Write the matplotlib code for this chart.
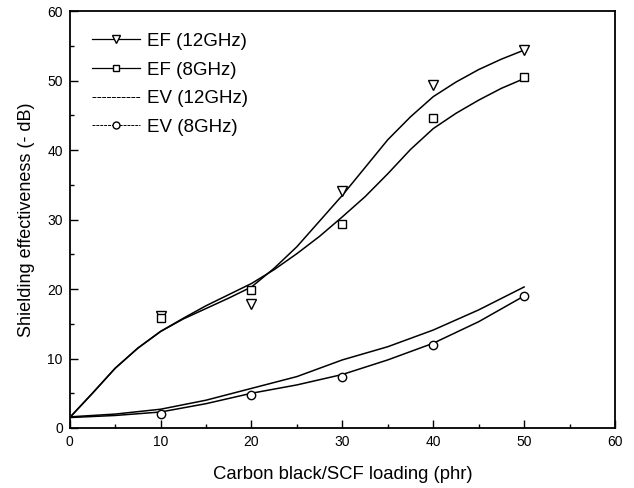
import matplotlib
matplotlib.use('Agg')
import matplotlib.pyplot as plt
from matplotlib.lines import Line2D
from matplotlib.ticker import MultipleLocator

plt.rcParams['font.family'] = ['Liberation Sans', 'DejaVu Sans']

# measured points
loading = [10, 20, 30, 40, 50]
ef_12 = [16.1, 17.9, 34.1, 49.4, 54.4]
ef_8 = [15.8, 19.9, 29.3, 44.6, 50.5]
ev_8 = [2.0, 4.75, 7.4, 11.9, 19.0]

# fitted curves
fit_x = [0, 2.5, 5, 7.5, 10, 12.5, 15, 17.5, 20, 22.5, 25, 27.5, 30,
         32.5, 35, 37.5, 40, 42.5, 45, 47.5, 50]
fit_ef_12 = [1.5, 5.0, 8.6, 11.5, 13.9, 15.7, 17.2, 18.7, 20.3, 23.0, 26.1,
             29.8, 33.5, 37.5, 41.5, 44.8, 47.7, 49.8, 51.6, 53.1, 54.4]
fit_ef_8 = [1.5, 5.0, 8.6, 11.5, 13.9, 15.8, 17.6, 19.2, 20.8, 22.8, 25.1,
            27.6, 30.4, 33.3, 36.6, 40.1, 43.1, 45.3, 47.2, 48.9, 50.3]
ev_x = [0, 5, 10, 15, 20, 25, 30, 35, 40, 45, 50]
fit_ev_12 = [1.6, 2.0, 2.7, 4.0, 5.7, 7.4, 9.8, 11.7, 14.1, 17.0, 20.3]
fit_ev_8 = [1.5, 1.8, 2.3, 3.5, 5.0, 6.2, 7.7, 9.8, 12.2, 15.3, 19.0]

fig = plt.figure(figsize=(6.34, 4.88), dpi=100)
ax = fig.add_axes([0.110, 0.123, 0.860, 0.854])

lw = 1.1
ax.plot(fit_x, fit_ef_12, color='black', lw=lw)
ax.plot(fit_x, fit_ef_8, color='black', lw=lw)
ax.plot(ev_x, fit_ev_12, color='black', lw=lw)
ax.plot(ev_x, fit_ev_8, color='black', lw=lw)

mk = dict(ls='none', mfc='white', mec='black', mew=1.0)
ax.plot(loading, ef_12, marker='v', ms=7, **mk)
ax.plot(loading, ef_8, marker='s', ms=5.5, **mk)
ax.plot(loading, ev_8, marker='o', ms=6, **mk)

handles = [
    Line2D([], [], color='black', lw=0.9, marker='v', mfc='white', mec='black', ms=6),
    Line2D([], [], color='black', lw=0.9, marker='s', mfc='white', mec='black', ms=5),
    Line2D([], [], color='black', lw=0.7, ls=(0, (4, 1))),
    Line2D([], [], color='black', lw=0.7, ls=(0, (3, 1)), marker='o', mfc='white', mec='black', ms=5),
]
labels = ['EF (12GHz)', 'EF (8GHz)', 'EV (12GHz)', 'EV (8GHz)']
ax.legend(handles, labels, loc='upper left', frameon=False, fontsize=13.5,
          handlelength=2.6, handletextpad=0.37, labelspacing=0.61,
          bbox_to_anchor=(0.04, 0.948), borderaxespad=0, borderpad=0)

ax.set_xlim(0, 60)
ax.set_ylim(0, 60)
ax.xaxis.set_major_locator(MultipleLocator(10))
ax.xaxis.set_minor_locator(MultipleLocator(5))
ax.yaxis.set_major_locator(MultipleLocator(10))
ax.yaxis.set_minor_locator(MultipleLocator(5))
ax.tick_params(which='both', direction='in', top=False, right=False, labelsize=10)
ax.tick_params(which='major', length=6, width=1, pad=5)
ax.tick_params(which='minor', length=3, width=1)
for s in ax.spines.values():
    s.set_linewidth(1.3)

ax.set_xlabel('Carbon black/SCF loading (phr)', fontsize=13.3, labelpad=12)
ax.set_ylabel('Shielding effectiveness (- dB)', fontsize=13, labelpad=9)

fig.savefig('out.png', dpi=100)
